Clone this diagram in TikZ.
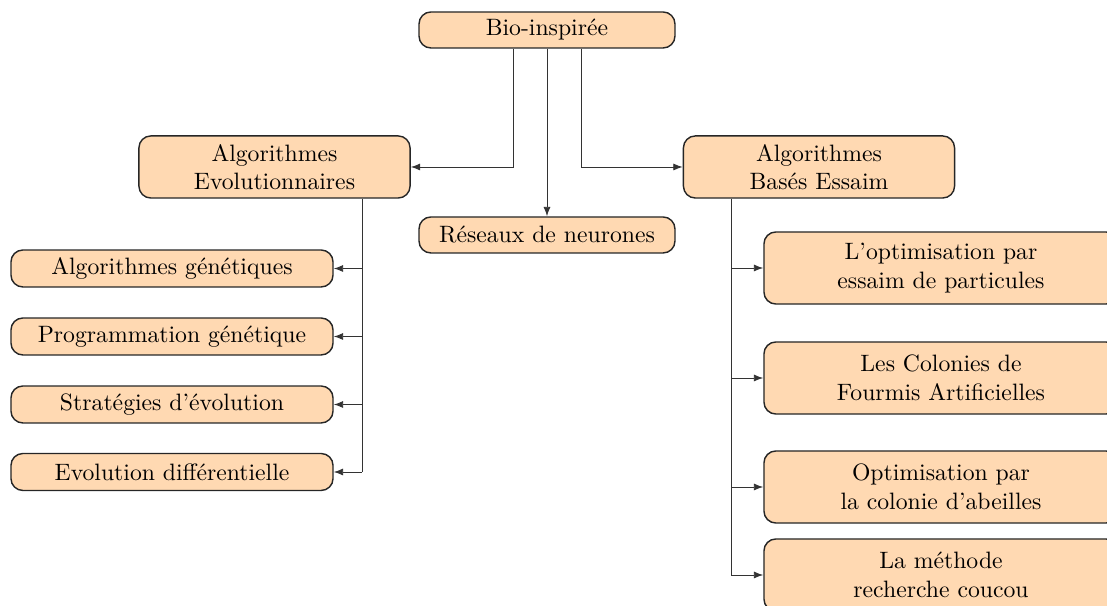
\documentclass[tikz,border=0pt]{standalone}
\usetikzlibrary{arrows.meta}
\definecolor{boxfill}{RGB}{255,217,178}
\tikzset{
  box/.style={draw=black!85, fill=boxfill, rounded corners=5pt, inner sep=0pt, align=center, line width=0.6pt},
  root/.style={box, minimum width=108pt, minimum height=15.2pt},
  mid/.style={box, minimum width=114.4pt, minimum height=26.2pt},
  leafL/.style={box, minimum width=135.9pt, minimum height=15.6pt},
  leafR/.style={box, minimum width=149.4pt, minimum height=30.4pt},
  conn/.style={draw=black!80, line width=0.4pt, -{Latex[length=4pt,width=3pt]}},
  line/.style={draw=black!80, line width=0.4pt}
}
\begin{document}
\begin{tikzpicture}[x=0.422pt, y=-0.422pt]
\useasboundingbox (0,0) rectangle (1107,606);
\clip (0,0) rectangle (1107,606);
\node[root] (bio) at (547,30) {Bio-inspirée};
\node[root] (res) at (547,235) {Réseaux de neurones};
\node[mid] (evo) at (274.5,167) {Algorithmes\\Evolutionnaires};
\node[mid] (ess) at (819,167) {Algorithmes\\Basés Essaim};
\node[leafL] (ag) at (172,268.5) {Algorithmes génétiques};
\node[leafL] (pg) at (172,336.5) {Programmation génétique};
\node[leafL] (se) at (172,404.5) {Stratégies d’évolution};
\node[leafL] (ed) at (172,472) {Evolution différentielle};
\node[leafR] (pso) at (941,268) {L’optimisation par\\essaim de particules};
\node[leafR] (aco) at (941,378) {Les Colonies de\\Fourmis Artificielles};
\node[leafR] (abc) at (941,487) {Optimisation par\\la colonie d’abeilles};
\node[leafR] (cs) at (941,575) {La méthode\\recherche coucou};
\coordinate (bL) at (513,0);
\coordinate (bR) at (581,0);
\coordinate (eL) at (362,0);
\coordinate (eR) at (731,0);
\draw[conn] (bio.south -| bL) |- (evo.east);
\draw[conn] (bio.south) -- (res.north);
\draw[conn] (bio.south -| bR) |- (ess.west);
\draw[line] (evo.south -| eL) -- (ed.east -| eL);
\foreach \n in {ag,pg,se,ed} \draw[conn] (\n.east -| eL) -- (\n.east);
\draw[line] (ess.south -| eR) -- (cs.west -| eR);
\foreach \n in {pso,aco,abc,cs} \draw[conn] (\n.west -| eR) -- (\n.west);
\end{tikzpicture}
\end{document}
